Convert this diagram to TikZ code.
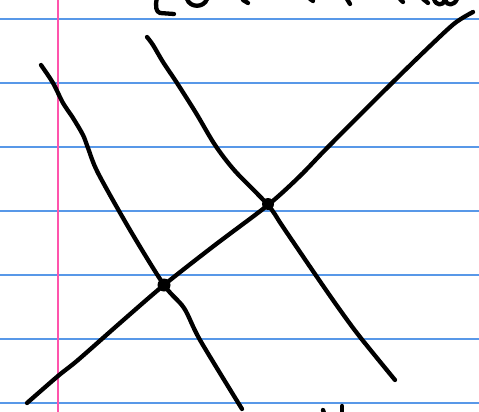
\documentclass[tikz,border=0pt]{standalone}
\definecolor{ruleblue}{RGB}{88,152,232}
\definecolor{marginpink}{RGB}{255,84,172}
\begin{document}
\begin{tikzpicture}[
    x=1pt, y=-1pt,
    rule/.style={draw=ruleblue, line width=1.2pt},
    margin/.style={draw=marginpink, line width=1.8pt},
    ink/.style={draw=black, line width=4.3pt, line cap=round, line join=round},
    blob/.style={circle, fill=black, inner sep=0pt, minimum size=13pt},
]
    % Page
    \useasboundingbox (0,0) rectangle (479,412);
    \clip (0,0) rectangle (479,412);
    \fill[white] (0,0) rectangle (479,412);

    % Ruled paper
    \foreach \y in {19,83,...,403}
        \draw[rule] (0,\y) -- (479,\y);
    \draw[margin] (58,0) -- (58,412);

    % Crossing points
    \coordinate (lowcross) at (164,285);
    \coordinate (upcross) at (268,205);

    % Left falling curve
    \draw[ink] plot[smooth, tension=0.5] coordinates {(41,65) (53,83) (63,103) (73,118) (83,135) (88,148)
        (98,173) (130,230) (lowcross) (184,308) (200,340) (242,409)};

    % Right falling curve
    \draw[ink] plot[smooth, tension=0.5] coordinates {(147,37) (153,45) (163,62) (177,83)
        (196,113) (215,145) (235,171) (upcross) (283,227) (317,277) (340,310) (360,337) (395,380)};

    % Rising line
    \draw[ink] plot[smooth, tension=0.5] coordinates {(27,403) (58,376) (78,360) (120,323) (lowcross)
        (215,245) (upcross) (300,176) (328,147) (392,83) (430,46) (455,23) (473,12)};

    % Dots on the crossings
    \node[blob] (lowdot) at (lowcross) {};
    \node[blob, minimum size=12pt, yshift=1pt] (updot) at (upcross) {};

    % Cut-off writing at the top
    \draw[ink] (157,-2) .. controls (155,6) and (156,12) .. (160,13) -- (174,14);
    \draw[ink] (187,-1) .. controls (190,8) and (204,8) .. (207,-1);
    \draw[ink] (243,0) -- (248,3);
    \draw[ink] (310,-1) -- (313,1);
    \draw[ink] (347,-1) -- (350,4);
    \draw[ink] (400,-1) -- (403,2);
    \draw[ink] (423,-1) -- (428,3);
    \draw[ink] (434,-1) .. controls (436,6) and (443,6) .. (445,0)
        .. controls (447,6) and (454,6) .. (457,-1);

    % Cut-off writing at the bottom
    \draw[ink] (323,410) -- (324,413);
    \draw[ink] (342,406) -- (342,413);
\end{tikzpicture}
\end{document}
